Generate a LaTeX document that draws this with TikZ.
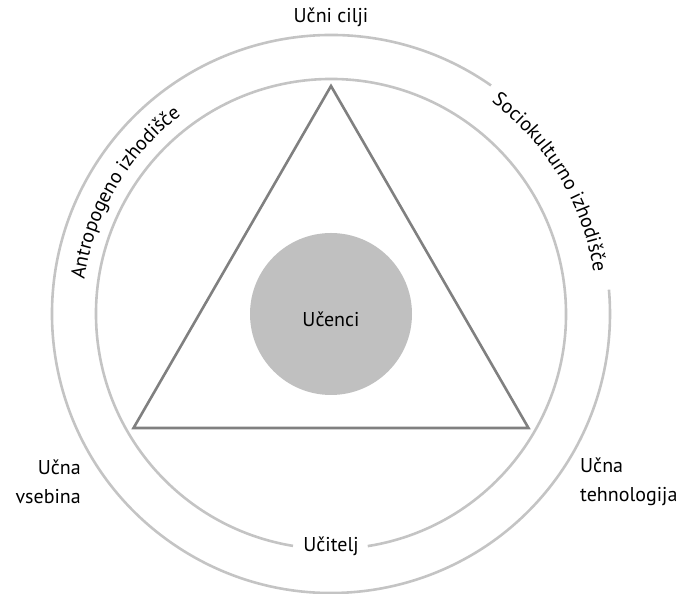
\documentclass[tikz,border=0pt]{standalone}
\usepackage{fontspec}
\setmainfont{PT Sans}
\usetikzlibrary{decorations.text,calc}
\definecolor{ringgray}{RGB}{196,196,196}
\definecolor{trigray}{RGB}{128,128,128}
\definecolor{diskgray}{RGB}{192,192,192}
\begin{document}
\begin{tikzpicture}[x=1pt,y=1pt,
  ring/.style={draw=ringgray,line width=2.6pt},
  tri/.style={draw=trigray,line width=2.6pt,line join=miter},
  lbl/.style={font=\fontsize{20}{29}\selectfont,inner sep=0pt,text=black},
  curvetext/.style={decorate,decoration={text along path,text align=center,
      text={|\fontsize{20}{24}\selectfont|#1}}}]
\useasboundingbox (0,0) rectangle (689,594);
\coordinate (C) at (331,280);
% outer ring with gap on the right
\draw[ring] (C) ++(55:279) arc[start angle=55,end angle=365,radius=279];
% inner ring with gap at the bottom
\draw[ring] (C) ++(279:235) arc[start angle=279,end angle=620.7,radius=235];
% triangle
\coordinate (T1) at ($(C)+(90:228)$);
\coordinate (T2) at ($(C)+(210:228)$);
\coordinate (T3) at ($(C)+(330:228)$);
\draw[tri] (T1) -- (T2) -- (T3) -- cycle;
% centre disk
\fill[diskgray] (C) circle[radius=81];
\node[lbl] (ucenci) at (331,275) {Učenci};
\node[lbl] (cilji) at (331,577) {Učni cilji};
\node[lbl] (ucitelj) at (331,48) {Učitelj};
\node[lbl,align=right,anchor=east] (vsebina) at (81,112) {Učna\\vsebina};
\node[lbl,align=left,anchor=west] (tehno) at (580,112) {Učna\\tehnologija};
\path[curvetext={Antropogeno izhodišče}] (C) ++(200:249) arc[start angle=200,end angle=99,radius=249];
\path[curvetext={Sociokulturno izhodišče}] (C) ++(81:266) arc[start angle=81,end angle=-19,radius=266];
\end{tikzpicture}
\end{document}
